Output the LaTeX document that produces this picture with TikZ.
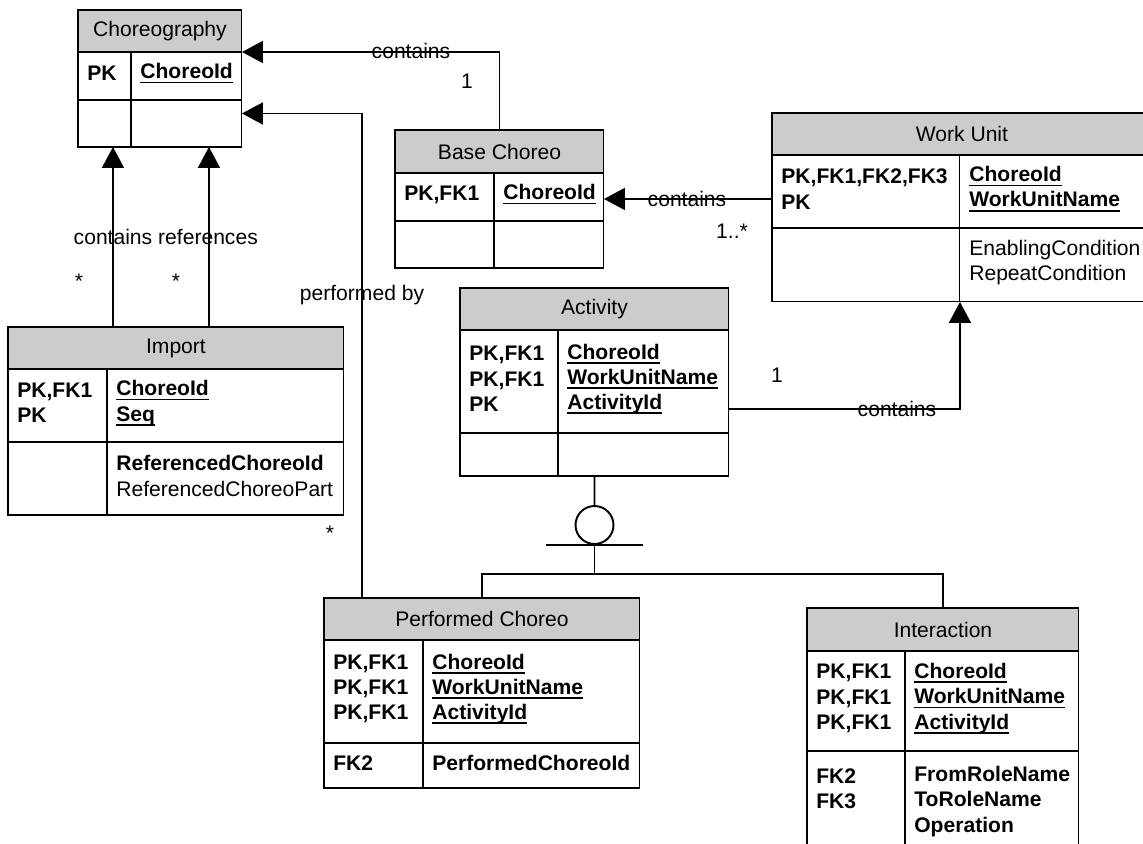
\documentclass[tikz,border=0pt]{standalone}
\usepackage{fontspec}
\setmainfont{Liberation Sans}
\usetikzlibrary{arrows.meta}
\definecolor{hdrgray}{RGB}{204,204,204}
\newcommand{\tblfont}{\fontsize{12}{14.4}\selectfont}
\newcommand{\ukey}[1]{\setbox0\hbox{#1}\rlap{\rule[-2.6pt]{\wd0}{1pt}}\box0}

\tikzset{
	tblhead/.style={draw, fill=hdrgray, anchor=north west, inner sep=0pt, outer sep=0pt, line width=0.6pt, font=\tblfont},
	tblcell/.style={draw, anchor=north west, inner sep=0pt, outer sep=0pt, line width=0.6pt},
	keyfld/.style={anchor=west, align=left, inner sep=0pt, xshift=0.18cm, yshift=0.05cm, font=\tblfont\bfseries},
	attrfld/.style={anchor=west, align=left, inner sep=0pt, xshift=0.18cm, yshift=0.05cm, font=\tblfont},
	rel/.style={line width=1.1pt, -{Triangle[length=0.42cm,width=0.44cm]}},
	plainrel/.style={line width=1.1pt},
	lbl/.style={inner sep=0pt, font=\tblfont}
}

\begin{document}
\begin{tikzpicture}[x=0.02cm, y=-0.02cm]
	\clip (0,0) rectangle (1143,843);
	\fill[white] (0,0) rectangle (1143,843);

	% Choreography
	\node[tblhead, minimum width=3.28cm, minimum height=0.84cm] (cho) at (78,10) {Choreography};
	\node[tblcell, minimum width=1.06cm, minimum height=0.96cm] (choKL) at (cho.south west) {};
	\node[tblcell, minimum width=2.22cm, minimum height=0.96cm] (choKR) at (choKL.north east) {};
	\node[tblcell, minimum width=1.06cm, minimum height=0.94cm] (choAL) at (choKL.south west) {};
	\node[tblcell, minimum width=2.22cm, minimum height=0.94cm] (choAR) at (choKL.south east) {};
	\node[keyfld] (choK1) at (choKL.west) {PK};
	\node[keyfld] (choK2) at (choKR.west) {\ukey{ChoreoId}};

	% Base Choreo
	\node[tblhead, minimum width=4.18cm, minimum height=0.86cm] (bch) at (395,130) {Base Choreo};
	\node[tblcell, minimum width=1.98cm, minimum height=0.96cm] (bchKL) at (bch.south west) {};
	\node[tblcell, minimum width=2.20cm, minimum height=0.96cm] (bchKR) at (bchKL.north east) {};
	\node[tblcell, minimum width=1.98cm, minimum height=0.94cm] (bchAL) at (bchKL.south west) {};
	\node[tblcell, minimum width=2.20cm, minimum height=0.94cm] (bchAR) at (bchKL.south east) {};
	\node[keyfld] (bchK1) at (bchKL.west) {PK,FK1};
	\node[keyfld] (bchK2) at (bchKR.west) {\ukey{ChoreoId}};

	% Work Unit
	\node[tblhead, minimum width=7.60cm, minimum height=0.84cm] (wu) at (772,113) {Work Unit};
	\node[tblcell, minimum width=3.76cm, minimum height=1.46cm] (wuKL) at (wu.south west) {};
	\node[tblcell, minimum width=3.84cm, minimum height=1.46cm] (wuKR) at (wuKL.north east) {};
	\node[tblcell, minimum width=3.76cm, minimum height=1.48cm] (wuAL) at (wuKL.south west) {};
	\node[tblcell, minimum width=3.84cm, minimum height=1.48cm] (wuAR) at (wuKL.south east) {};
	\node[keyfld] (wuK1) at (wuKL.west) {PK,FK1,FK2,FK3\\PK};
	\node[keyfld] (wuK2) at (wuKR.west) {\ukey{ChoreoId}\\\ukey{WorkUnitName}};
	\node[attrfld] (wuA2) at (wuAR.west) {EnablingCondition\\RepeatCondition};

	% Import
	\node[tblhead, minimum width=6.72cm, minimum height=0.84cm] (imp) at (8,327) {Import};
	\node[tblcell, minimum width=1.98cm, minimum height=1.46cm] (impKL) at (imp.south west) {};
	\node[tblcell, minimum width=4.74cm, minimum height=1.46cm] (impKR) at (impKL.north east) {};
	\node[tblcell, minimum width=1.98cm, minimum height=1.46cm] (impAL) at (impKL.south west) {};
	\node[tblcell, minimum width=4.74cm, minimum height=1.46cm] (impAR) at (impKL.south east) {};
	\node[keyfld] (impK1) at (impKL.west) {PK,FK1\\PK};
	\node[keyfld] (impK2) at (impKR.west) {\ukey{ChoreoId}\\\ukey{Seq}};
	\node[attrfld] (impA2) at (impAR.west) {\textbf{ReferencedChoreoId}\\ReferencedChoreoPart};

	% Activity
	\node[tblhead, minimum width=5.38cm, minimum height=0.84cm] (act) at (460,288) {Activity};
	\node[tblcell, minimum width=1.96cm, minimum height=2.06cm] (actKL) at (act.south west) {};
	\node[tblcell, minimum width=3.42cm, minimum height=2.06cm] (actKR) at (actKL.north east) {};
	\node[tblcell, minimum width=1.96cm, minimum height=0.86cm] (actAL) at (actKL.south west) {};
	\node[tblcell, minimum width=3.42cm, minimum height=0.86cm] (actAR) at (actKL.south east) {};
	\node[keyfld] (actK1) at (actKL.west) {PK,FK1\\PK,FK1\\PK};
	\node[keyfld] (actK2) at (actKR.west) {\ukey{ChoreoId}\\\ukey{WorkUnitName}\\\ukey{ActivityId}};

	% Performed Choreo
	\node[tblhead, minimum width=6.32cm, minimum height=0.84cm] (pch) at (324,598) {Performed Choreo};
	\node[tblcell, minimum width=1.98cm, minimum height=2.06cm] (pchKL) at (pch.south west) {};
	\node[tblcell, minimum width=4.34cm, minimum height=2.06cm] (pchKR) at (pchKL.north east) {};
	\node[tblcell, minimum width=1.98cm, minimum height=0.90cm] (pchAL) at (pchKL.south west) {};
	\node[tblcell, minimum width=4.34cm, minimum height=0.90cm] (pchAR) at (pchKL.south east) {};
	\node[keyfld] (pchK1) at (pchKL.west) {PK,FK1\\PK,FK1\\PK,FK1};
	\node[keyfld] (pchK2) at (pchKR.west) {\ukey{ChoreoId}\\\ukey{WorkUnitName}\\\ukey{ActivityId}};
	\node[keyfld] (pchA1) at (pchAL.west) {FK2};
	\node[keyfld] (pchA2) at (pchAR.west) {PerformedChoreoId};

	% Interaction
	\node[tblhead, minimum width=5.44cm, minimum height=0.86cm] (ia) at (807,608) {Interaction};
	\node[tblcell, minimum width=1.96cm, minimum height=2.00cm] (iaKL) at (ia.south west) {};
	\node[tblcell, minimum width=3.48cm, minimum height=2.00cm] (iaKR) at (iaKL.north east) {};
	\node[tblcell, minimum width=1.96cm, minimum height=2.12cm] (iaAL) at (iaKL.south west) {};
	\node[tblcell, minimum width=3.48cm, minimum height=2.12cm] (iaAR) at (iaKL.south east) {};
	\node[keyfld] (iaK1) at (iaKL.west) {PK,FK1\\PK,FK1\\PK,FK1};
	\node[keyfld] (iaK2) at (iaKR.west) {\ukey{ChoreoId}\\\ukey{WorkUnitName}\\\ukey{ActivityId}};
	\node[keyfld] (iaA1) at (iaAL.west) {FK2\\FK3\\\phantom{X}};
	\node[keyfld] (iaA2) at (iaAR.west) {FromRoleName\\ToRoleName\\Operation};

	% relationships
	\draw[rel] (bch.north) |- (cho.south east);
	\coordinate (pcUp) at ([xshift=0.76cm]pch.north west);
	\coordinate (choIn) at ([yshift=0.2cm]choAR.east);
	\draw[rel] (pcUp) |- (choIn);
	\coordinate (imp1) at ([xshift=2.1cm]imp.north west);
	\coordinate (imp2) at ([xshift=4.02cm]imp.north west);
	\draw[rel] (imp1) -- (imp1 |- choAL.south);
	\draw[rel] (imp2) -- (imp2 |- choAR.south);
	\coordinate (wuOut) at ([yshift=-0.15cm]wuKL.west);
	\draw[rel] (wuOut) -- (wuOut -| bchKR.east);
	\coordinate (actOut) at ([yshift=-0.55cm]actKR.east);
	\draw[rel] (actOut) -| (wuAR.south west);

	% subtypes of Activity
	\node[draw, circle, minimum size=0.76cm, inner sep=0pt, line width=1.1pt] (gen) at (594.5,525) {};
	\coordinate (bus) at ([yshift=-0.58cm]gen.south);
	\draw[plainrel] (act.center |- actAR.south) -- (gen.north);
	\draw[plainrel] ([xshift=-0.98cm]gen.south) -- ([xshift=0.98cm]gen.south);
	\draw[plainrel] (gen.south) -- (bus);
	\draw[plainrel] (pch.north) |- (bus) -| (ia.north);

	% labels
	\node[lbl] (lcont1) at (411,51) {contains};
	\node[lbl] (lone1) at (467,81) {1};
	\node[lbl] (lcont2) at (113,237) {contains};
	\node[lbl] (lrefs) at (208,237) {references};
	\node[lbl] (lmany1) at (79,281) {*};
	\node[lbl] (lmany2) at (176,281) {*};
	\node[lbl] (lperf) at (362,295) {performed by};
	\node[lbl] (lmany3) at (330,533) {*};
	\node[lbl] (lcont3) at (687,199) {contains};
	\node[lbl] (lmany4) at (732,231) {1..*};
	\node[lbl] (lone2) at (777,375) {1};
	\node[lbl] (lcont4) at (897,409) {contains};
\end{tikzpicture}
\end{document}
